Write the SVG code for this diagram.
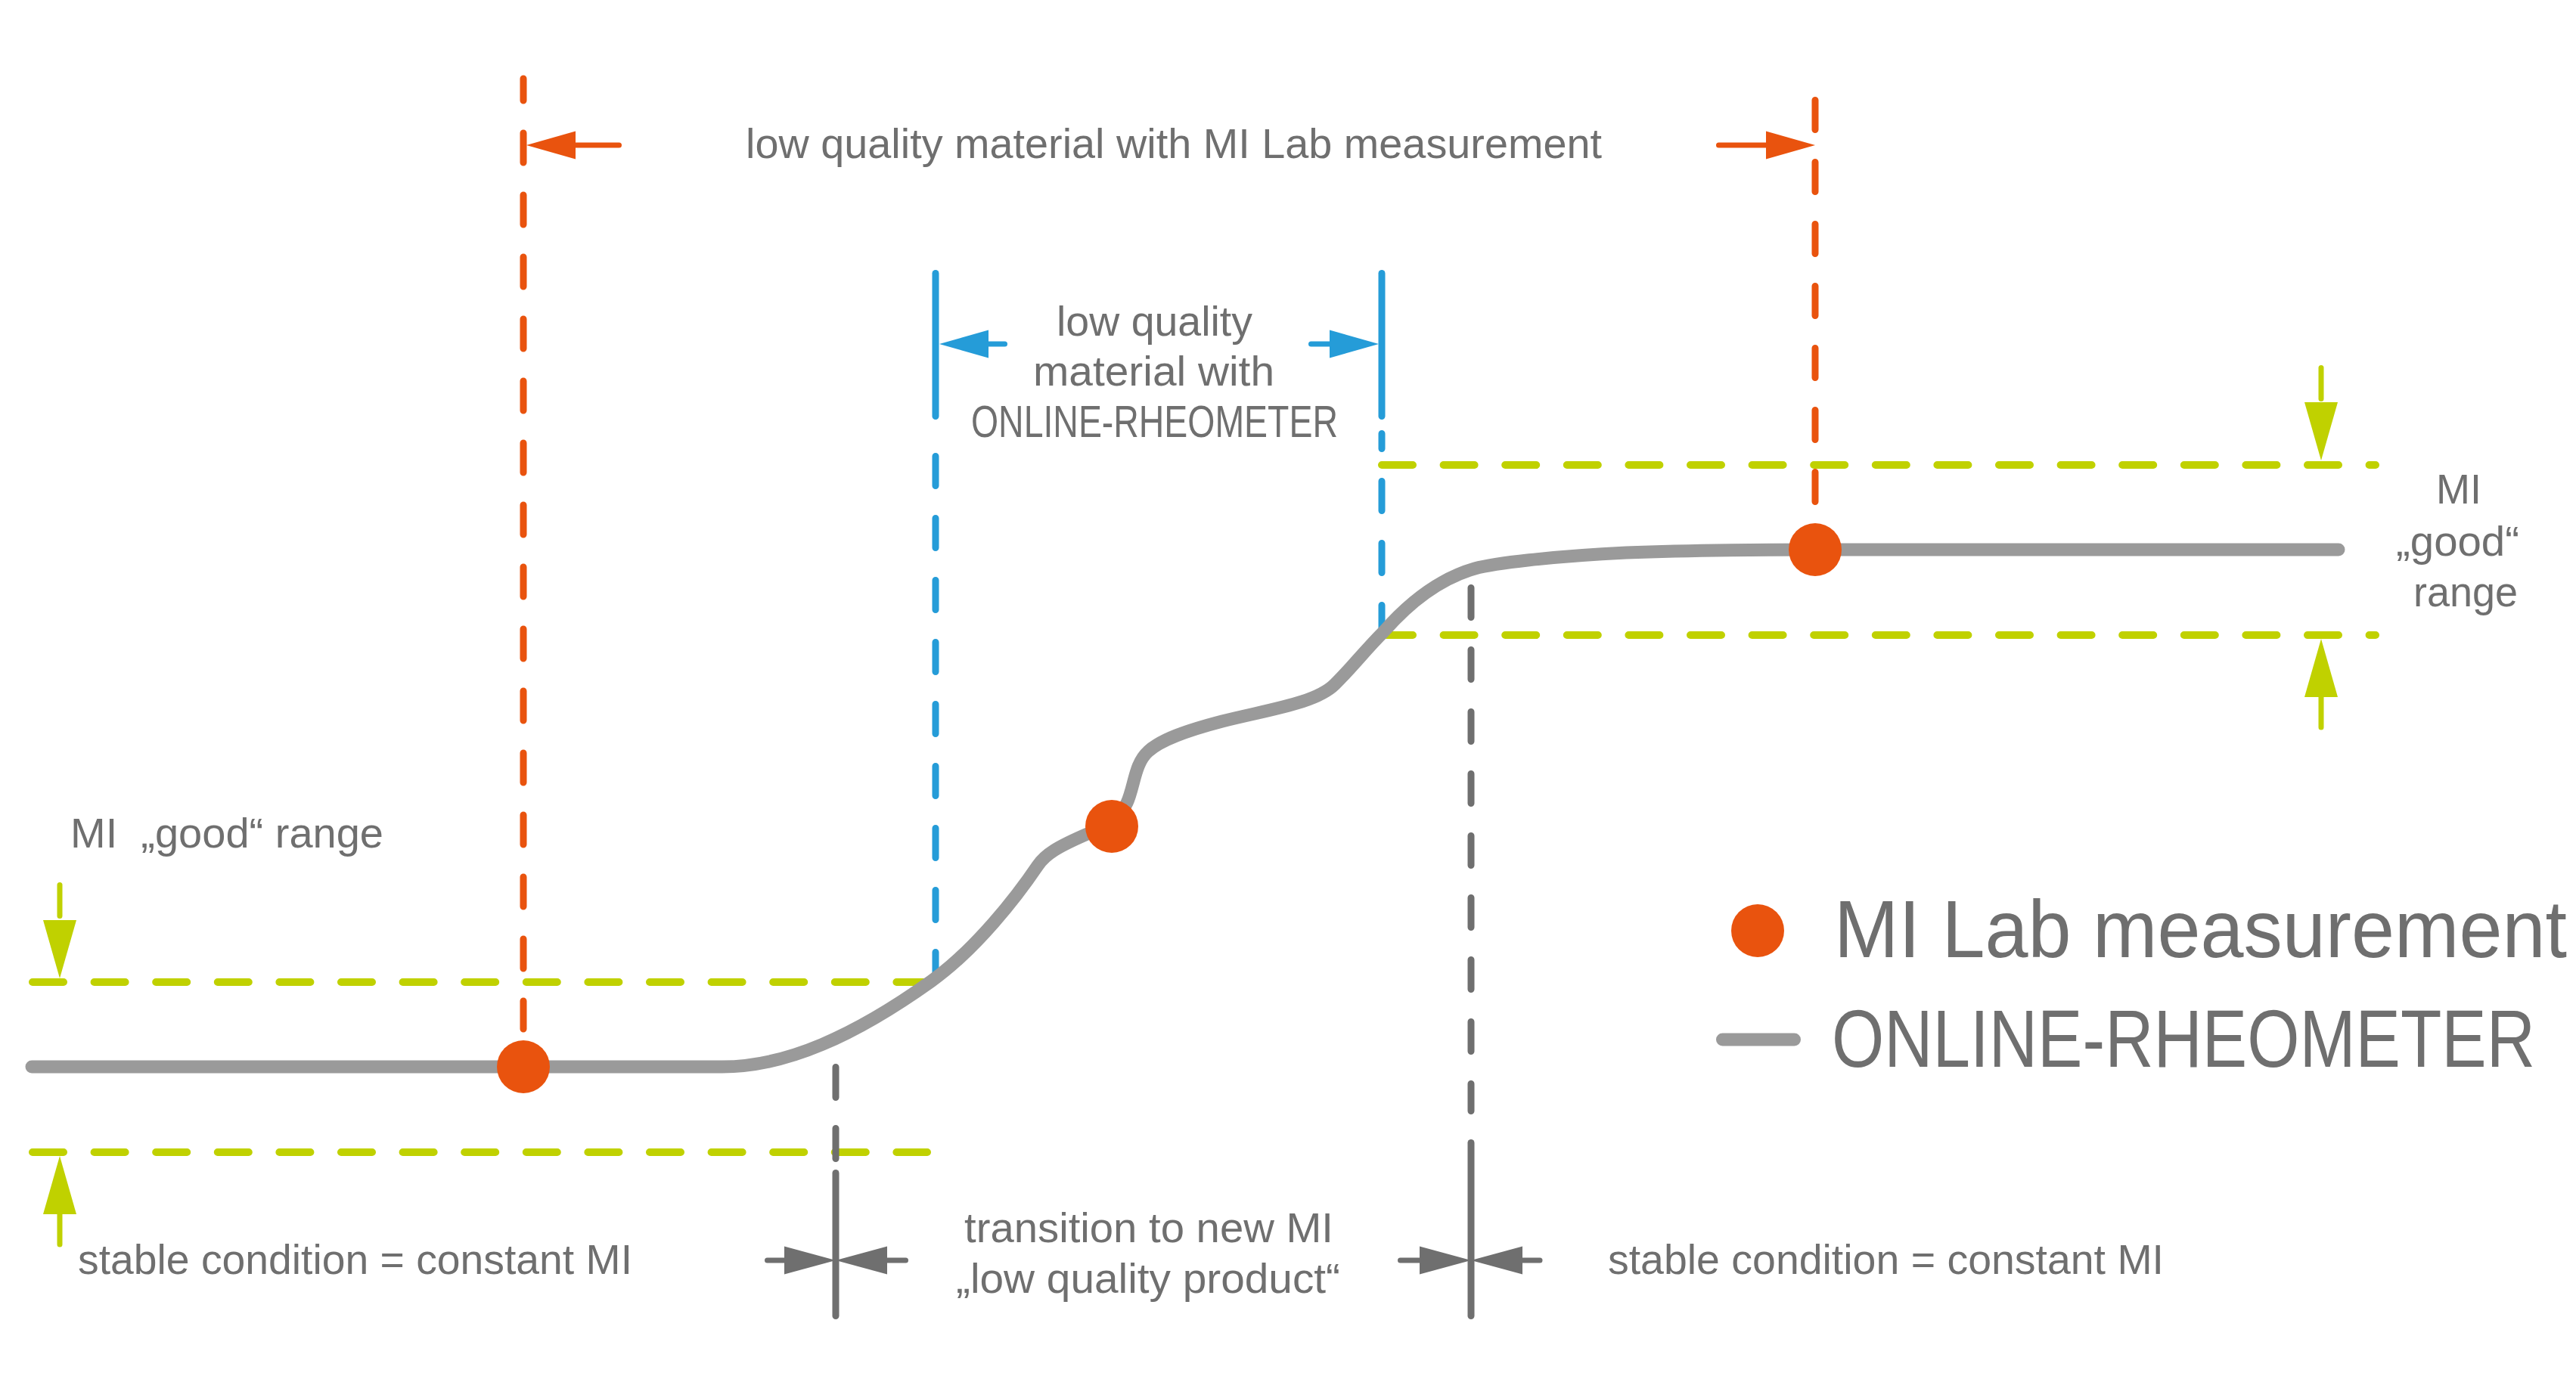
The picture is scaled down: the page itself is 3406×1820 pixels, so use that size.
<svg xmlns="http://www.w3.org/2000/svg" width="3406" height="1820" viewBox="0 0 3406 1820">
<style>
.t{font-family:"Liberation Sans",Arial,sans-serif;font-size:56px;fill:#6f6f6f}
.cap{font-size:59px}
.big{font-size:108px}
.or{stroke:#e9530e;stroke-width:9;stroke-linecap:round;fill:none}
.bl{stroke:#259cd8;stroke-width:9;stroke-linecap:round;fill:none}
.gr{stroke:#c0d100;stroke-width:10;stroke-linecap:round;fill:none;stroke-dasharray:41 40.6}
.dk{stroke:#6f6f6f;stroke-width:9;stroke-linecap:round;fill:none}
.dash{stroke-dasharray:39 43}
.sh{stroke-width:7}
.curve{stroke:#9a9a9a;stroke-width:17;stroke-linecap:round;stroke-linejoin:round;fill:none}
.dot{fill:#e9530e}
</style>
<defs>
<path id="headS" d="M0,0 L-65,-18.5 L-65,18.5 Z"/>
<path id="headG" d="M0,0 L-77,-22 L-77,22 Z"/>
<path id="headD" d="M0,0 L-68,-18.5 L-68,18.5 Z"/>
</defs>
<rect width="3406" height="1820" fill="#ffffff"/>

<g id="connectors">
  <g id="green-lines">
    <line class="gr" x1="43" y1="1299" x2="1226" y2="1299"/>
    <line class="gr" x1="43" y1="1524" x2="1226" y2="1524"/>
    <line class="gr" x1="1827" y1="615" x2="3141" y2="615"/>
    <line class="gr" x1="1827" y1="840" x2="3141" y2="840"/>
  </g>
  <g id="orange-lines">
    <line class="or dash" x1="692" y1="104" x2="692" y2="1361" stroke-dashoffset="10"/>
    <line class="or dash" x1="2400" y1="132.5" x2="2400" y2="663.5"/>
  </g>
  <g id="blue-lines">
    <line class="bl" x1="1237" y1="361.5" x2="1237" y2="550.5"/>
    <line class="bl dash" x1="1237" y1="603.5" x2="1237" y2="1293"/>
    <line class="bl" x1="1827" y1="361.5" x2="1827" y2="550.5"/>
    <line class="bl dash" x1="1827" y1="573.5" x2="1827" y2="836" stroke-dashoffset="19"/>
  </g>
  <g id="dark-lines">
    <line class="dk" x1="1105" y1="1411.5" x2="1105" y2="1532.5" stroke-dasharray="40 41"/>
    <line class="dk" x1="1105" y1="1551.5" x2="1105" y2="1740.5"/>
    <line class="dk dash" x1="1945" y1="777.5" x2="1945" y2="1469.5"/>
    <line class="dk" x1="1945" y1="1511.5" x2="1945" y2="1740.5"/>
  </g>
  <g id="arrows-orange" fill="#e9530e">
    <line class="or sh" x1="761" y1="192" x2="818.5" y2="192"/>
    <use href="#headS" transform="translate(696,192) rotate(180)"/>
    <line class="or sh" x1="2272.5" y1="192" x2="2336" y2="192"/>
    <use href="#headS" transform="translate(2400,192)"/>
  </g>
  <g id="arrows-blue" fill="#259cd8">
    <line class="bl sh" x1="1306" y1="455" x2="1328.5" y2="455"/>
    <use href="#headS" transform="translate(1242,455) rotate(180)"/>
    <line class="bl sh" x1="1733.5" y1="455" x2="1759" y2="455"/>
    <use href="#headS" transform="translate(1823,455)"/>
  </g>
  <g id="arrows-green" fill="#c0d100">
    <line class="gr sh" x1="79" y1="1170.5" x2="79" y2="1218" stroke-dasharray="none"/>
    <use href="#headG" transform="translate(79,1294) rotate(90)"/>
    <line class="gr sh" x1="79" y1="1605" x2="79" y2="1651.5" stroke-dasharray="none"/>
    <use href="#headG" transform="translate(79,1529) rotate(-90)"/>
    <line class="gr sh" x1="3069" y1="486.5" x2="3069" y2="533" stroke-dasharray="none"/>
    <use href="#headG" transform="translate(3069,609) rotate(90)"/>
    <line class="gr sh" x1="3069" y1="921" x2="3069" y2="969.5" stroke-dasharray="none"/>
    <use href="#headG" transform="translate(3069,845) rotate(-90)"/>
  </g>
  <g id="arrows-dark" fill="#6f6f6f">
    <line class="dk sh" x1="1014.5" y1="1667" x2="1038" y2="1667"/>
    <use href="#headD" transform="translate(1105,1667)"/>
    <line class="dk sh" x1="1172" y1="1667" x2="1197.5" y2="1667"/>
    <use href="#headD" transform="translate(1105,1667) rotate(180)"/>
    <line class="dk sh" x1="1851.5" y1="1667" x2="1878" y2="1667"/>
    <use href="#headD" transform="translate(1945,1667)"/>
    <line class="dk sh" x1="2012" y1="1667" x2="2036" y2="1667"/>
    <use href="#headD" transform="translate(1945,1667) rotate(180)"/>
  </g>
</g>

<g id="rheometer-curve">
  <path class="curve" d="M 42 1411 H 955 C 1040 1411 1130 1370 1231 1298 C 1291 1255 1345 1185 1372 1145 C 1382 1130 1398 1120 1440 1102 C 1465 1090 1482 1080 1490 1062 C 1500 1040 1500 1010 1518 994 C 1535 978 1570 966 1616 954 C 1680 938 1740 930 1765 905 C 1790 880 1805 860 1830 835 C 1865 795 1905 765 1950 752 C 1975 745 2050 736 2150 731 C 2250 727 2350 727 2400 727 H 3092"/>
</g>

<g id="lab-points">
  <circle class="dot" cx="692" cy="1411" r="35"/>
  <circle class="dot" cx="1470" cy="1093" r="35"/>
  <circle class="dot" cx="2400" cy="727" r="35"/>
</g>

<g id="label-lab-range">
  <text class="t" x="986" y="209" textLength="1132" lengthAdjust="spacingAndGlyphs">low quality material with MI Lab measurement</text>
</g>
<g id="label-rheometer-range">
  <text class="t" x="1397" y="444" textLength="259" lengthAdjust="spacingAndGlyphs">low quality</text>
  <text class="t" x="1366" y="510" textLength="319" lengthAdjust="spacingAndGlyphs">material with</text>
  <text class="t cap" transform="translate(1284,578) scale(0.787,1)" x="0" y="0">ONLINE-RHEOMETER</text>
</g>
<g id="label-good-range-right">
  <text class="t" x="3221" y="666" textLength="60" lengthAdjust="spacingAndGlyphs">MI</text>
  <text class="t" x="3168" y="735" textLength="163" lengthAdjust="spacingAndGlyphs">„good“</text>
  <text class="t" x="3191" y="802" textLength="138" lengthAdjust="spacingAndGlyphs">range</text>
</g>
<g id="label-good-range-left">
  <text class="t" x="93" y="1121" xml:space="preserve" textLength="414" lengthAdjust="spacingAndGlyphs">MI  „good“ range</text>
</g>
<g id="label-stable-left">
  <text class="t" x="103" y="1685" textLength="733" lengthAdjust="spacingAndGlyphs">stable condition = constant MI</text>
</g>
<g id="label-transition">
  <text class="t" x="1275" y="1643" textLength="488" lengthAdjust="spacingAndGlyphs">transition to new MI</text>
  <text class="t" x="1264" y="1710" textLength="508" lengthAdjust="spacingAndGlyphs">„low quality product“</text>
</g>
<g id="label-stable-right">
  <text class="t" x="2126" y="1685" textLength="735" lengthAdjust="spacingAndGlyphs">stable condition = constant MI</text>
</g>

<g id="legend">
  <circle class="dot" cx="2324" cy="1231" r="35"/>
  <text class="t big" transform="translate(2425,1266) scale(0.9497,1)" x="0" y="0">MI Lab measurement</text>
  <line x1="2277.5" y1="1375" x2="2372.5" y2="1375" stroke="#9a9a9a" stroke-width="17" stroke-linecap="round"/>
  <text class="t big" transform="translate(2422,1411) scale(0.8245,1)" x="0" y="0">ONLINE-RHEOMETER</text>
</g>
</svg>
